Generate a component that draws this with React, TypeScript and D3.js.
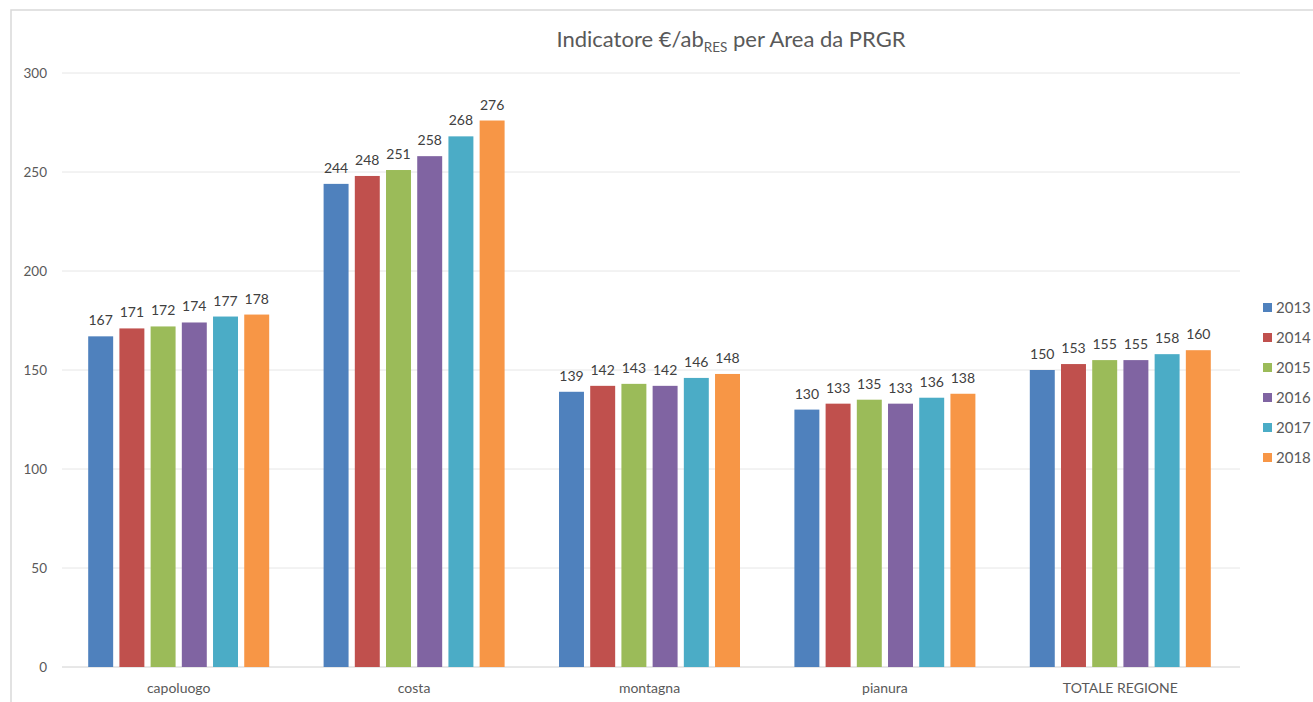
import React from 'react';
import * as d3 from 'd3';

const categories = ['capoluogo', 'costa', 'montagna', 'pianura', 'TOTALE REGIONE'];
const years = ['2013', '2014', '2015', '2016', '2017', '2018'];

const values2013 = [167, 244, 139, 130, 150];
const values2014 = [171, 248, 142, 133, 153];
const values2015 = [172, 251, 143, 135, 155];
const values2016 = [174, 258, 142, 133, 155];
const values2017 = [177, 268, 146, 136, 158];
const values2018 = [178, 276, 148, 138, 160];

const seriesValues = [values2013, values2014, values2015, values2016, values2017, values2018];
const yTicks = [0, 50, 100, 150, 200, 250, 300];

const colors = ['#4F81BD', '#C0504D', '#9BBB59', '#8064A2', '#4BACC6', '#F79646'];

const W = 1313;
const H = 702;
const plot = { left: 61, right: 1238, top: 73, bottom: 667 };
const font = 'Lato, "Open Sans", sans-serif';

const App: React.FC = () => {
  const x0 = d3.scaleBand<string>()
    .domain(categories)
    .range([plot.left, plot.right])
    .paddingInner(0)
    .paddingOuter(0);

  // group of six bars inside each category band
  const groupWidth = 181;
  const x1 = d3.scaleBand<string>()
    .domain(years)
    .range([0, groupWidth])
    .paddingInner(0.2)
    .paddingOuter(0);

  const y = d3.scaleLinear().domain([0, 300]).range([plot.bottom, plot.top]);

  return (
    <div style={{ position: 'fixed', left: 0, top: 0, width: W, height: H, background: '#fff' }}>
      <svg width={W} height={H} style={{ display: 'block' }} fontFamily={font}>
        <rect x={11} y={10} width={W + 20} height={H + 20} fill="#fff" stroke="#d9d9d9" strokeWidth={1.5} />

        {/* title */}
        <text x={731} y={47} textAnchor="middle" fontSize={22} fill="#595959">
          <tspan>Indicatore €/ab</tspan>
          <tspan fontSize={13.5} dy={5}>RES</tspan>
          <tspan dy={-5}> per Area da PRGR</tspan>
        </text>

        {/* gridlines & y ticks */}
        {yTicks.map(t => (
          <g key={t}>
            <line
              x1={plot.left + 1}
              x2={plot.right + 2}
              y1={y(t)}
              y2={y(t)}
              stroke={t === 0 ? '#d0d0d0' : '#e6e6e6'}
              strokeWidth={1}
            />
            <text x={47} y={y(t) + 5} textAnchor="end" fontSize={13.5} fill="#595959">{t}</text>
          </g>
        ))}

        {/* bars */}
        {categories.map((c, ci) => {
          const gx = (x0(c) || 0) + (x0.bandwidth() - groupWidth) / 2;
          return (
            <g key={c} transform={`translate(${gx},0)`}>
              {years.map((yr, si) => {
                const v = seriesValues[si][ci];
                const bx = x1(yr) || 0;
                return (
                  <g key={yr}>
                    <rect x={bx} y={y(v)} width={x1.bandwidth()} height={plot.bottom - y(v)} fill={colors[si]} />
                    <text
                      x={bx + x1.bandwidth() / 2}
                      y={y(v) - 11}
                      textAnchor="middle"
                      fontSize={14}
                      fill="#404040"
                    >
                      {v}
                    </text>
                  </g>
                );
              })}
            </g>
          );
        })}

        {/* x labels */}
        {categories.map(c => (
          <text
            key={c}
            x={(x0(c) || 0) + x0.bandwidth() / 2}
            y={693}
            textAnchor="middle"
            fontSize={14}
            fill="#595959"
          >
            {c}
          </text>
        ))}

        {/* legend */}
        {years.map((yr, i) => (
          <g key={yr} transform={`translate(1263,${308 + i * 30})`}>
            <rect x={0} y={-5} width={9} height={9} fill={colors[i]} />
            <text x={13} y={5} fontSize={15} fill="#595959">{yr}</text>
          </g>
        ))}
      </svg>
    </div>
  );
};

export default App;
